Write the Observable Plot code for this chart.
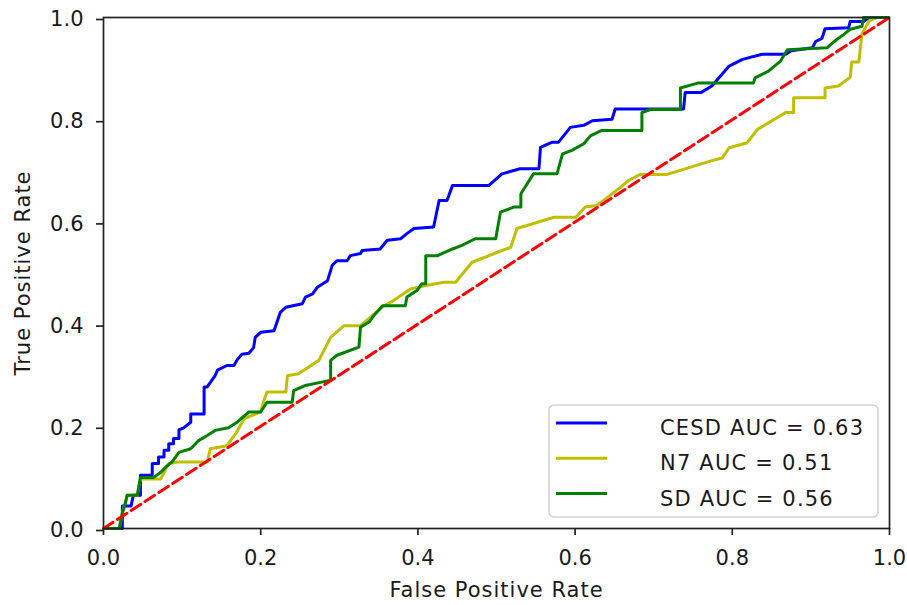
<!DOCTYPE html>
<html><head><meta charset="utf-8">
<script src="https://cdn.jsdelivr.net/npm/d3@7"></script>
<script src="https://cdn.jsdelivr.net/npm/@observablehq/plot@0.6"></script>
<style>
body{margin:0;background:#fff;}
#chart svg{display:block;}
</style></head><body><div id="chart"></div>
<script>
const seriesNames = ["CESD", "N7", "SD"];
const aucValues = [0.63, 0.51, 0.56];
const seriesColors = ["#0000ff", "#bfbf00", "#008000"];

const cesdFpr = [0,0.024,0.024,0.035,0.038,0.047,0.047,0.062,0.062,0.070,0.070,0.077,0.077,0.083,0.083,0.089,0.089,0.096,0.096,0.102,0.111,0.111,0.128,0.128,0.132,0.136,0.142,0.145,0.157,0.166,0.170,0.176,0.185,0.191,0.193,0.200,0.217,0.225,0.232,0.253,0.257,0.266,0.272,0.285,0.291,0.297,0.310,0.314,0.327,0.329,0.352,0.361,0.378,0.386,0.395,0.420,0.427,0.437,0.444,0.490,0.507,0.530,0.554,0.556,0.571,0.579,0.594,0.611,0.622,0.647,0.651,0.738,0.740,0.760,0.774,0.796,0.813,0.838,0.868,0.875,0.902,0.906,0.914,0.918,0.948,0.950,0.967,0.974,1];
const cesdTpr = [0,0,0.044,0.044,0.065,0.065,0.104,0.104,0.127,0.127,0.140,0.140,0.153,0.153,0.166,0.166,0.176,0.176,0.193,0.197,0.208,0.224,0.224,0.277,0.277,0.286,0.299,0.310,0.319,0.319,0.330,0.341,0.343,0.354,0.374,0.384,0.387,0.423,0.433,0.440,0.453,0.459,0.472,0.485,0.515,0.524,0.524,0.534,0.538,0.544,0.547,0.564,0.567,0.577,0.587,0.590,0.642,0.642,0.671,0.671,0.694,0.704,0.704,0.746,0.756,0.756,0.785,0.789,0.798,0.801,0.821,0.821,0.853,0.853,0.866,0.905,0.918,0.928,0.928,0.935,0.941,0.953,0.959,0.978,0.980,0.992,0.992,1,1];

const n7Fpr = [0,0.020,0.024,0.030,0.043,0.047,0.073,0.083,0.094,0.132,0.136,0.147,0.157,0.168,0.179,0.200,0.204,0.208,0.232,0.234,0.248,0.274,0.289,0.306,0.327,0.357,0.369,0.391,0.412,0.433,0.448,0.469,0.507,0.518,0.526,0.539,0.573,0.601,0.613,0.628,0.658,0.668,0.683,0.717,0.772,0.787,0.796,0.819,0.832,0.868,0.878,0.878,0.918,0.918,0.935,0.950,0.952,0.961,0.965,0.974,0.984,1];
const n7Tpr = [0,0,0.030,0.065,0.065,0.097,0.097,0.127,0.130,0.130,0.156,0.159,0.162,0.185,0.215,0.228,0.250,0.267,0.267,0.299,0.303,0.329,0.374,0.397,0.397,0.436,0.446,0.469,0.476,0.482,0.482,0.521,0.544,0.550,0.587,0.593,0.609,0.609,0.629,0.632,0.668,0.681,0.693,0.693,0.719,0.725,0.745,0.755,0.781,0.814,0.814,0.843,0.843,0.862,0.866,0.883,0.913,0.913,0.968,0.993,1,1];

const sdFpr = [0,0.020,0.024,0.028,0.030,0.043,0.047,0.064,0.073,0.079,0.087,0.096,0.111,0.121,0.132,0.142,0.159,0.170,0.185,0.200,0.208,0.240,0.242,0.257,0.276,0.289,0.289,0.297,0.325,0.327,0.338,0.344,0.355,0.384,0.386,0.399,0.405,0.410,0.410,0.425,0.444,0.456,0.473,0.499,0.505,0.522,0.531,0.531,0.547,0.577,0.584,0.596,0.611,0.620,0.634,0.685,0.685,0.696,0.734,0.734,0.757,0.827,0.829,0.846,0.861,0.870,0.921,0.925,0.933,0.942,0.950,0.965,0.967,1];
const sdTpr = [0,0,0.030,0.050,0.065,0.065,0.100,0.100,0.110,0.120,0.130,0.149,0.156,0.172,0.182,0.192,0.197,0.208,0.228,0.228,0.247,0.247,0.270,0.280,0.286,0.290,0.329,0.339,0.355,0.394,0.404,0.417,0.436,0.436,0.453,0.466,0.479,0.479,0.534,0.534,0.547,0.554,0.567,0.567,0.619,0.629,0.629,0.655,0.694,0.694,0.733,0.740,0.753,0.769,0.779,0.779,0.814,0.820,0.820,0.862,0.872,0.872,0.882,0.895,0.914,0.937,0.941,0.947,0.957,0.967,0.977,0.983,1,1];

const chanceFpr = [0, 1];
const chanceTpr = [0, 1];

const tickValues = [0, 0.2, 0.4, 0.6, 0.8, 1.0];
const tickLabels = ["0.0", "0.2", "0.4", "0.6", "0.8", "1.0"];
const xLabel = "False Positive Rate";
const yLabel = "True Positive Rate";

const curves = [
  {name: seriesNames[0], fpr: cesdFpr, tpr: cesdTpr},
  {name: seriesNames[1], fpr: n7Fpr, tpr: n7Tpr},
  {name: seriesNames[2], fpr: sdFpr, tpr: sdTpr}
];
const rows = curves.map(c => c.fpr.map((f, i) => ({series: c.name, fpr: f, tpr: c.tpr[i]})));
const chance = chanceFpr.map((f, i) => ({fpr: f, tpr: chanceTpr[i]}));

const W = 907, H = 605;
const mL = 103, mR = 18, mT = 17, mB = 77;
const font = "DejaVu Sans, sans-serif";
const textColor = "#1a1a1a";

const chart = Plot.plot({
  width: W, height: H,
  marginLeft: mL, marginRight: mR, marginTop: mT, marginBottom: mB,
  style: {fontFamily: font, fontSize: "21px", color: textColor, background: "#fff"},
  x: {domain: [0, 1]},
  y: {domain: [0, 1]},
  marks: [
    ...rows.map((r, i) => Plot.line(r, {x: "fpr", y: "tpr", stroke: seriesColors[i], strokeWidth: 3, strokeLinejoin: "round", strokeLinecap: "butt"})),
    Plot.line(chance, {x: "fpr", y: "tpr", stroke: "#ff0000", strokeWidth: 3, strokeDasharray: "11.5,5"}),
    Plot.frame({stroke: "#222", strokeWidth: 1.7}),
    Plot.axisX({ticks: tickValues, tickFormat: (d) => tickLabels[tickValues.indexOf(d)], tickSize: 7, tickPadding: 15, stroke: "#222", strokeWidth: 1.7, fontSize: 21, fill: textColor, label: null}),
    Plot.axisY({ticks: tickValues, tickFormat: (d) => tickLabels[tickValues.indexOf(d)], tickSize: 7, tickPadding: 13, stroke: "#222", strokeWidth: 1.7, fontSize: 21, fill: textColor, label: null, dy: 2}),
    Plot.text([xLabel], {text: d => d, frameAnchor: "bottom", textAnchor: "middle", dy: 68, fontSize: 21, fill: textColor}),
    Plot.text([yLabel], {text: d => d, frameAnchor: "left", textAnchor: "middle", dx: -80, rotate: -90, fontSize: 21, fill: textColor})
  ]
});

const svg = d3.select(chart);
svg.selectAll("g[aria-label='text'] text").attr("letter-spacing", "1px");

// legend
const boxW = 329, boxH = 112;
const bx = W - mR - 11 - boxW, by = H - mB - 11 - boxH;
const lg = svg.append("g").attr("font-family", font).attr("font-size", 21).attr("text-anchor", "start");
lg.append("rect").attr("x", bx).attr("y", by).attr("width", boxW).attr("height", boxH)
  .attr("rx", 5).attr("fill", "#fff").attr("fill-opacity", 0.8).attr("stroke", "#d5d5d5").attr("stroke-width", 1.7);
seriesNames.forEach((name, i) => {
  const ly = by + 18 + i * 35.3;
  lg.append("line").attr("x1", bx + 7).attr("x2", bx + 58).attr("y1", ly).attr("y2", ly)
    .attr("stroke", seriesColors[i]).attr("stroke-width", 3);
  lg.append("text").attr("x", bx + 111).attr("y", ly + 12).attr("fill", textColor)
    .attr("text-anchor", "start").attr("letter-spacing", "1.2px")
    .text(`${name} AUC = ${aucValues[i].toFixed(2)}`);
});

document.getElementById("chart").appendChild(chart);
</script></body></html>
